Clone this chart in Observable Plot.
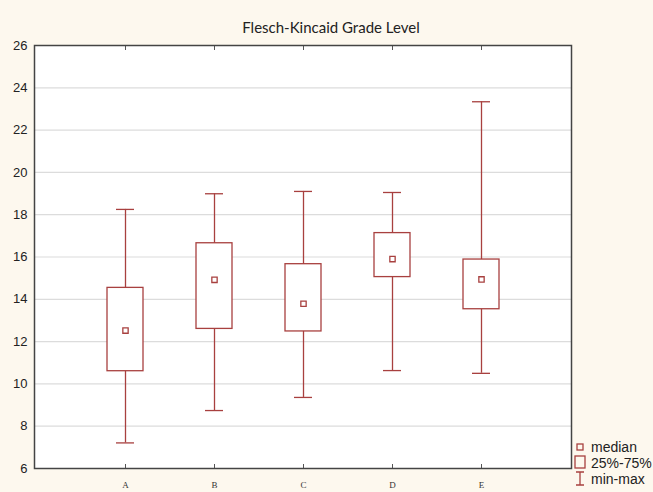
<!DOCTYPE html>
<html>
<head>
<meta charset="utf-8">
<script src="https://cdn.jsdelivr.net/npm/d3@7"></script>
<script src="https://cdn.jsdelivr.net/npm/@observablehq/plot@0.6"></script>
<style>
  html, body { margin: 0; padding: 0; background: #fdf8ee; }
  #wrap { position: relative; width: 653px; height: 492px; overflow: hidden; }
  #title { position: absolute; left: 0; width: 662px; top: 18px; text-align: center;
           font-family: Lato, "Open Sans", sans-serif; font-size: 15px; color: #222; }
  .leg { position: absolute; left: 574px; font-family: "Liberation Sans", Arial, sans-serif;
         font-size: 14px; color: #222; line-height: 16px; display: flex; align-items: center; }
  .leg svg { margin-right: 5px; overflow: visible; }
</style>
</head>
<body>
<div id="wrap">
  <div id="chart"></div>
  <div id="title">Flesch-Kincaid Grade Level</div>
  <div class="leg" style="top:439px"><svg width="12" height="12"><rect x="3" y="3" width="6" height="6" fill="none" stroke="#a8403f" stroke-width="1.3"/></svg>median</div>
  <div class="leg" style="top:455px"><svg width="12" height="12"><rect x="1" y="-1" width="10" height="12" fill="none" stroke="#a8403f" stroke-width="1.3"/></svg>25%-75%</div>
  <div class="leg" style="top:471px"><svg width="12" height="12"><path d="M2,-1H10M6,-1V12M2,12H10" fill="none" stroke="#a8403f" stroke-width="1.3"/></svg>min-max</div>
</div>
<script>
const categories = ["A", "B", "C", "D", "E"];
const minVals    = [7.21, 8.74, 9.36, 10.63, 10.5];
const q1Vals     = [10.6, 12.6, 12.48, 15.05, 13.53];
const medians    = [12.52, 14.92, 13.79, 15.9, 14.94];
const q3Vals     = [14.54, 16.65, 15.66, 17.13, 15.88];
const maxVals    = [18.25, 18.99, 19.1, 19.05, 23.34];
const yTicks     = [6, 8, 10, 12, 14, 16, 18, 20, 22, 24, 26];

const data = categories.map((c, i) => ({
  cat: c, min: minVals[i], q1: q1Vals[i], med: medians[i], q3: q3Vals[i], max: maxVals[i]
}));

const red = "#a8403f";

const chart = Plot.plot({
  width: 653,
  height: 492,
  marginLeft: 34,
  marginRight: 82,
  marginTop: 45,
  marginBottom: 24,
  style: { background: "transparent", overflow: "visible" },
  x: { type: "band", domain: categories, paddingInner: 0.598, paddingOuter: 0.799, label: null },
  y: { domain: [6, 26], label: null },
  marks: [
    Plot.frame({ fill: "white", stroke: "none" }),
    Plot.gridY(yTicks, { stroke: "#dcdcdc", strokeOpacity: 1, strokeWidth: 1.2 }),
    Plot.axisY(yTicks, { tickSize: 0, tickPadding: 7, fontSize: 13,
      fontFamily: "Liberation Sans, Arial, sans-serif", fill: "#222", label: null }),
    Plot.axisX({ anchor: "bottom", tickSize: -4, text: null, stroke: "#555", label: null }),
    Plot.axisX({ anchor: "top", tickSize: -4, text: null, stroke: "#555", label: null }),
    Plot.axisX({ anchor: "bottom", tickSize: 0, tickPadding: 13, fontSize: 9,
      fontFamily: "Liberation Serif, Times New Roman, serif", fill: "#333", label: null }),
    Plot.ruleX(data, { x: "cat", y1: "min", y2: "max", stroke: red, strokeWidth: 1.3 }),
    Plot.tickY(data, { x: "cat", y: "min", stroke: red, strokeWidth: 1.3, insetLeft: 9, insetRight: 9 }),
    Plot.tickY(data, { x: "cat", y: "max", stroke: red, strokeWidth: 1.3, insetLeft: 9, insetRight: 9 }),
    Plot.barY(data, { x: "cat", y1: "q1", y2: "q3", fill: "white", stroke: red, strokeWidth: 1.3 }),
    Plot.dot(data, { x: "cat", y: "med", symbol: "square", r: 3, stroke: red, strokeWidth: 1.3, fill: "none" }),
    Plot.frame({ stroke: "#444", strokeWidth: 1.5 })
  ]
});
document.getElementById("chart").appendChild(chart);
</script>
</body>
</html>
